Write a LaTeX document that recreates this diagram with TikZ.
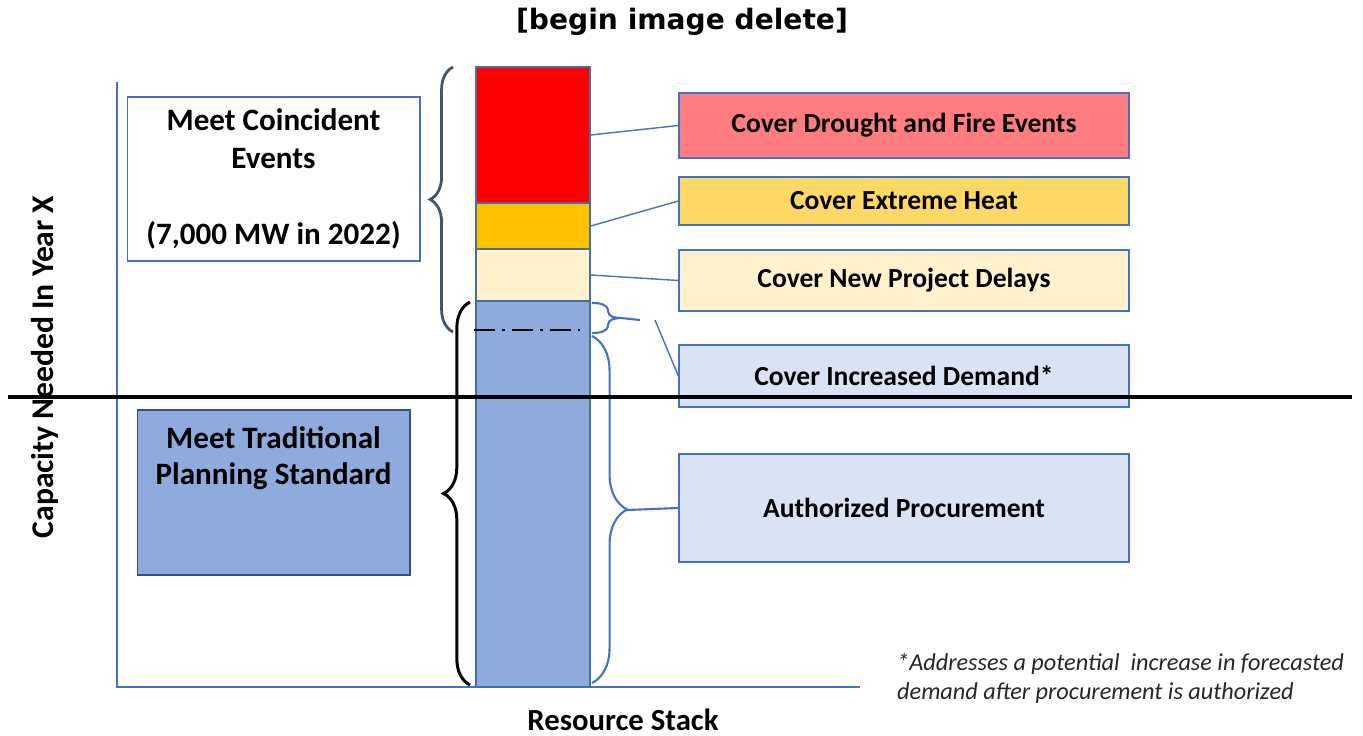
\documentclass[tikz,border=0pt]{standalone}
\usepackage{fontspec}
\setmainfont{Carlito}
\newfontfamily\titlefont{DejaVu Sans}
\usetikzlibrary{decorations.pathreplacing}

\definecolor{barred}{HTML}{FF0000}
\definecolor{barorange}{HTML}{FFC000}
\definecolor{barcream}{HTML}{FFF2CC}
\definecolor{barblue}{HTML}{8FAADC}
\definecolor{barline}{HTML}{41719C}
\definecolor{tagline}{HTML}{4472C4}
\definecolor{tagred}{HTML}{FF7C80}
\definecolor{tagyellow}{HTML}{FFD966}
\definecolor{tagpale}{HTML}{DAE3F3}
\definecolor{braceslate}{HTML}{44546A}
\definecolor{deepblue}{HTML}{2F528F}

\begin{document}
\begin{tikzpicture}[x=0.02cm, y=-0.02cm,
    every node/.style={font=\bfseries\fontsize{15.7}{18}\selectfont},
    seg/.style={draw=barline, line width=0.8pt, minimum width=2.28cm, inner sep=0},
    tag/.style={draw=tagline, line width=0.8pt, minimum width=9cm, inner sep=0},
    link/.style={draw=tagline, line width=0.8pt},
    curly/.style={decorate, decoration={brace, amplitude=#1}}]

  \useasboundingbox (0,0) rectangle (1363,736);

  % heading and axis labels
  \node[font=\titlefont\bfseries\fontsize{16}{19}\selectfont] (title) at (682,22) {[begin image delete]};
  \node[rotate=90, font=\bfseries\fontsize{18}{21}\selectfont] (ylab) at (45,367) {Capacity Needed In Year X};
  \node[font=\bfseries\fontsize{17.5}{20}\selectfont] (xlab) at (623,720) {Resource Stack};

  % axes
  \coordinate (origin) at (117,687);
  \draw[tagline, line width=0.7pt] (117,82) -- (origin) -- (860,687);

  % the stacked bar
  \node[seg, fill=barred, minimum height=2.72cm] (red) at (533,135) {};
  \node[seg, fill=barorange, minimum height=0.92cm] (heatbar) at (533,226) {};
  \node[seg, fill=barcream, minimum height=1.04cm] (delaybar) at (533,275) {};
  \node[seg, fill=barblue, minimum height=7.72cm] (base) at (533,494) {};
  \draw[line width=1.4pt, dash pattern=on 12pt off 4pt on 1.5pt off 4pt] (474,330) -- (583,330);

  % boxes on the right
  \node[tag, fill=tagred, minimum height=1.3cm] (drought) at (904,125.5) {Cover Drought and Fire Events};
  \node[tag, fill=tagyellow, minimum height=0.96cm] (heat) at (904,201) {Cover Extreme Heat};
  \node[tag, fill=barcream, minimum height=1.22cm] (delays) at (904,280.5) {Cover New Project Delays};
  \node[tag, fill=tagpale, minimum height=1.24cm] (demand) at (904,376) {Cover Increased Demand*};
  \node[tag, fill=tagpale, minimum height=2.16cm] (auth) at (904,508) {Authorized Procurement};

  \draw[link] (red.east) -- (drought.west);
  \draw[link] (heatbar.east) -- (heat.west);
  \draw[link] (delaybar.east) -- (delays.west);

  % boxes on the left
  \node[draw=tagline, line width=0.6pt, fill=white, minimum width=5.86cm, minimum height=3.28cm,
        align=center, font=\bfseries\fontsize{17.7}{21.5}\selectfont] (coincident) at (273.5,179)
        {Meet Coincident\\Events\\[21.5pt](7,000 MW in 2022)};
  \node[draw=deepblue, line width=0.6pt, fill=barblue, minimum width=5.46cm, minimum height=3.3cm] (trad) at (273.5,492.5) {};
  \node[align=center, anchor=north, font=\bfseries\fontsize{17.7}{20.5}\selectfont] (tradtext) at (273.5,420)
        {Meet Traditional\\Planning Standard};

  % braces
  \draw[curly=13pt, braceslate, line width=1.6pt] (453,332) -- (453,67);
  \draw[curly=15pt, black, line width=1.7pt] (470,685) -- (470,302);
  \draw[curly=20pt, tagline, line width=1.2pt] (592,336) -- (592,683);
  \draw[tagline, line width=1.2pt] (592,303) to[out=0,in=90] (608,311) to[out=-90,in=180] (621,318)
        to[out=180,in=90] (608,325) to[out=-90,in=0] (592,333);

  \coordinate (smalltip) at (621,318);
  \coordinate (tipend) at (640,320);
  \coordinate (demfoot) at (655,320);
  \coordinate (authtip) at (627,510);
  \draw[link, line width=1.2pt] (smalltip) -- (tipend);
  \draw[link] (demfoot) -- (demand.west);
  \draw[link, line width=1.2pt] (authtip) -- (auth.west);

  % footnote
  \node[font=\itshape\fontsize{13.8}{16.5}\selectfont, text=black!85, align=left, anchor=north west] (note) at (891,647)
        {*Addresses a potential\ \ increase in forecasted\\demand after procurement is authorized};

  % divider across the whole chart
  \draw[line width=2.3pt] (8,397) -- (1352,397);

\end{tikzpicture}
\end{document}
